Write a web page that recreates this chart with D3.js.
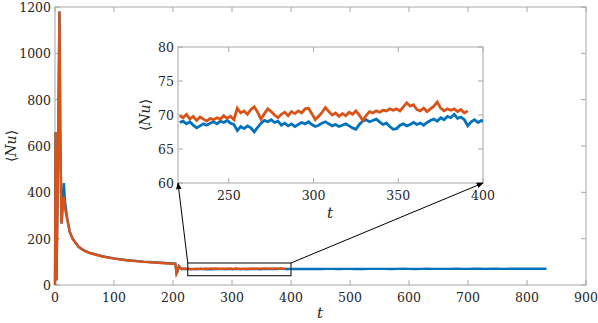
<!DOCTYPE html>
<html>
<head>
<meta charset="utf-8">
<script src="https://cdn.jsdelivr.net/npm/d3@7"></script>
<style>
  body { margin: 0; background: #fff; }
  svg text { font-family: "DejaVu Serif", serif; }
</style>
</head>
<body>
<svg width="598" height="323"></svg>
<script>
// transient part, t < 221
var tEarly      = [0, 1, 2.5, 5, 7.5, 9, 11, 13, 15, 17, 20, 25, 30, 40, 50, 60, 80, 100, 120, 150, 180, 200, 204, 206, 208, 210, 212, 215, 218];
var blueEarly   = [0, 660, 20, 500, 1180, 650, 265, 350, 440, 360, 300, 230, 200, 165, 148, 138, 124, 115, 108, 101, 96, 93, 92, 50, 60, 82, 76, 68, 70];
var orangeEarly = [0, 660, 20, 500, 1180, 650, 265, 330, 380, 330, 290, 228, 198, 164, 147, 137, 123, 114, 107, 100, 95, 92, 91, 50, 62, 80, 75, 69, 70.5];

// zoomed window, sampled every 2 time units from t = 221
var tInset = d3.range(221, 402, 2);
var blueInset = [68.9, 69.1, 68.7, 69.0, 68.5, 68.1, 68.4, 68.7, 68.5, 68.8,
  69.0, 68.7, 69.1, 68.9, 69.2, 68.8, 68.6, 67.7, 68.3, 68.0,
  68.4, 68.1, 67.5, 68.2, 68.8, 69.2, 69.0, 69.3, 68.9, 69.1,
  68.5, 68.8, 68.4, 68.7, 68.3, 68.6, 68.9, 68.7, 69.0, 68.6,
  68.3, 68.5, 68.8, 69.0, 68.7, 68.4, 68.6, 68.3, 68.5, 68.7,
  68.4, 68.1, 67.9, 68.6, 69.1, 69.3, 69.0, 69.2, 69.4, 69.0,
  68.6, 68.8, 68.3, 67.9, 68.0, 68.5, 68.7, 68.4, 68.6, 68.9,
  68.6, 68.8, 68.5, 68.9, 69.2, 69.4, 69.1, 69.6, 69.3, 69.8,
  69.6, 70.1, 69.5, 69.7, 69.3, 68.4, 69.0, 69.3, 68.9, 69.2, 69.0];
var orangeInset = [69.9, 69.6, 70.1, 69.4, 69.8, 69.2, 69.7, 69.4, 69.1, 69.5,
  69.3, 69.6, 69.4, 69.9, 69.5, 69.8, 69.3, 71.0, 70.3, 70.6,
  70.1, 70.8, 71.2, 70.4, 69.4, 70.2, 70.9, 70.5, 70.0, 69.6,
  70.1, 70.4, 69.9, 70.5, 70.2, 70.6, 70.3, 70.9, 71.0, 70.2,
  69.3, 69.8, 70.4, 71.1, 70.5, 70.0, 70.3, 69.8, 70.2, 69.9,
  70.4, 70.1, 70.6, 70.0, 69.2, 69.9, 70.5, 70.3, 70.6, 70.4,
  70.7, 70.6, 70.9, 70.7, 70.9, 70.6, 71.2, 71.8, 71.3, 71.5,
  70.8, 70.6, 71.0, 70.5, 70.9, 71.3, 71.9, 71.0, 70.6, 70.9,
  70.7, 70.9, 70.5, 70.8, 70.3, 70.6];

// long run, blue only
var tLate = [410, 420, 430, 440, 450, 460, 470, 480, 490, 500, 510, 520, 530, 540, 550, 560, 570, 580, 590, 600,
  610, 620, 630, 640, 650, 660, 670, 680, 690, 700, 710, 720, 730, 740, 750, 760, 770, 780, 790, 800, 810, 820, 833];
var blueLate = [69.4, 69.1, 69.6, 69.3, 69.0, 69.5, 69.8, 69.2, 69.4, 69.7, 69.3, 69.1, 69.5, 69.8, 69.4, 69.6, 69.2, 69.5, 69.9, 69.6,
  69.3, 69.7, 70.0, 69.5, 69.8, 69.4, 69.7, 70.1, 69.8, 69.5, 69.9, 70.2, 69.7, 69.9, 70.3, 69.8, 70.0, 70.4, 69.9, 70.2, 70.5, 70.1, 70.3];

var xTicks = [0, 100, 200, 300, 400, 500, 600, 700, 800, 900];
var yTicks = [0, 200, 400, 600, 800, 1000, 1200];
var xTicksInset = [250, 300, 350, 400];
var yTicksInset = [60, 65, 70, 75, 80];
var zoomBox = { t: [225, 400], nu: [40, 95] };

var blue = '#0072BD', orange = '#D95319';

function zipSeries(ts, vs) {
  var n = Math.min(ts.length, vs.length), out = [];
  for (var i = 0; i < n; i++) out.push([ts[i], vs[i]]);
  return out;
}
var blueAll = zipSeries(tEarly, blueEarly).concat(zipSeries(tInset, blueInset), zipSeries(tLate, blueLate));
var orangeAll = zipSeries(tEarly, orangeEarly).concat(zipSeries(tInset, orangeInset));
var blueZoom = zipSeries(tInset, blueInset);
var orangeZoom = zipSeries(tInset, orangeInset);

var svg = d3.select('svg');

// main axes
var x = d3.scaleLinear().domain([0, 900]).range([55, 586]);
var y = d3.scaleLinear().domain([0, 1200]).range([285, 7]);

function drawFrame(g, xs, ys, xt, yt, tickLen) {
  var x0 = xs.range()[0], x1 = xs.range()[1], y0 = ys.range()[0], y1 = ys.range()[1];
  g.append('rect').attr('x', x0).attr('y', y1).attr('width', x1 - x0).attr('height', y0 - y1)
    .attr('fill', 'none').attr('stroke', '#a8a8a8').attr('stroke-width', 1);
  xt.forEach(function(v) {
    g.append('line').attr('x1', xs(v)).attr('x2', xs(v)).attr('y1', y0).attr('y2', y0 - tickLen).attr('stroke', '#a8a8a8');
    g.append('line').attr('x1', xs(v)).attr('x2', xs(v)).attr('y1', y1).attr('y2', y1 + tickLen).attr('stroke', '#a8a8a8');
  });
  yt.forEach(function(v) {
    g.append('line').attr('x1', x0).attr('x2', x0 + tickLen).attr('y1', ys(v)).attr('y2', ys(v)).attr('stroke', '#a8a8a8');
    g.append('line').attr('x1', x1).attr('x2', x1 - tickLen).attr('y1', ys(v)).attr('y2', ys(v)).attr('stroke', '#a8a8a8');
  });
  g.selectAll('text.xl').data(xt).enter().append('text')
    .attr('x', function(d) { return xs(d); }).attr('y', y0 + 17)
    .attr('text-anchor', 'middle').attr('font-size', 12.5).attr('fill', '#262626').text(function(d) { return d; });
  g.selectAll('text.yl').data(yt).enter().append('text')
    .attr('x', x0 - 4).attr('y', function(d) { return ys(d) + 5; })
    .attr('text-anchor', 'end').attr('font-size', 12.5).attr('fill', '#262626').text(function(d) { return d; });
}

function nuLabel(g, cx, cy) {
  var t = g.append('text').attr('transform', 'translate(' + cx + ',' + cy + ') rotate(-90)')
    .attr('text-anchor', 'middle').attr('font-size', 14).attr('fill', '#262626');
  t.append('tspan').text('\u27E8');
  t.append('tspan').attr('font-style', 'italic').text('Nu');
  t.append('tspan').text('\u27E9');
}

var main = svg.append('g');
drawFrame(main, x, y, xTicks, yTicks, 5);

var line = d3.line().x(function(d) { return x(d[0]); }).y(function(d) { return y(d[1]); });
main.append('path').datum(blueAll).attr('d', line).attr('fill', 'none').attr('stroke', blue).attr('stroke-width', 2.4);
main.append('path').datum(orangeAll).attr('d', line).attr('fill', 'none').attr('stroke', orange).attr('stroke-width', 2.4);

main.append('text').attr('x', 320).attr('y', 318).attr('text-anchor', 'middle')
  .attr('font-size', 15).attr('font-style', 'italic').attr('fill', '#262626').text('t');
nuLabel(main, 16, 146);

// zoom rectangle
main.append('rect')
  .attr('x', x(zoomBox.t[0])).attr('y', y(zoomBox.nu[1]))
  .attr('width', x(zoomBox.t[1]) - x(zoomBox.t[0])).attr('height', y(zoomBox.nu[0]) - y(zoomBox.nu[1]))
  .attr('fill', 'none').attr('stroke', '#000').attr('stroke-width', 1);

// inset axes
var xi = d3.scaleLinear().domain([220, 400]).range([178, 483]);
var yi = d3.scaleLinear().domain([60, 80]).range([183, 47]);

var inset = svg.append('g');
inset.append('rect').attr('x', 178).attr('y', 47).attr('width', 305).attr('height', 136).attr('fill', '#fff');
inset.append('clipPath').attr('id', 'clipInset').append('rect')
  .attr('x', 178).attr('y', 47).attr('width', 305).attr('height', 136);
drawFrame(inset, xi, yi, xTicksInset, yTicksInset, 5);

var lineI = d3.line().x(function(d) { return xi(d[0]); }).y(function(d) { return yi(d[1]); });
var clipped = inset.append('g').attr('clip-path', 'url(#clipInset)');
clipped.append('path').datum(blueZoom).attr('d', lineI).attr('fill', 'none').attr('stroke', blue).attr('stroke-width', 2.8);
clipped.append('path').datum(orangeZoom).attr('d', lineI).attr('fill', 'none').attr('stroke', orange).attr('stroke-width', 2.8);

inset.append('text').attr('x', 330).attr('y', 218).attr('text-anchor', 'middle')
  .attr('font-size', 15).attr('font-style', 'italic').attr('fill', '#262626').text('t');
nuLabel(inset, 150, 115);

// connector arrows from zoom box to inset corners
svg.append('defs').append('marker').attr('id', 'arrow')
  .attr('viewBox', '0 0 10 10').attr('refX', 9).attr('refY', 5)
  .attr('markerWidth', 7).attr('markerHeight', 7).attr('orient', 'auto')
  .append('path').attr('d', 'M0,1L10,5L0,9z').attr('fill', '#000');

svg.append('line')
  .attr('x1', x(zoomBox.t[0])).attr('y1', y(zoomBox.nu[1]))
  .attr('x2', xi.range()[0]).attr('y2', yi.range()[0])
  .attr('stroke', '#000').attr('stroke-width', 1).attr('marker-end', 'url(#arrow)');
svg.append('line')
  .attr('x1', x(zoomBox.t[1])).attr('y1', y(zoomBox.nu[1]))
  .attr('x2', xi.range()[1]).attr('y2', yi.range()[0])
  .attr('stroke', '#000').attr('stroke-width', 1).attr('marker-end', 'url(#arrow)');
</script>
</body>
</html>
